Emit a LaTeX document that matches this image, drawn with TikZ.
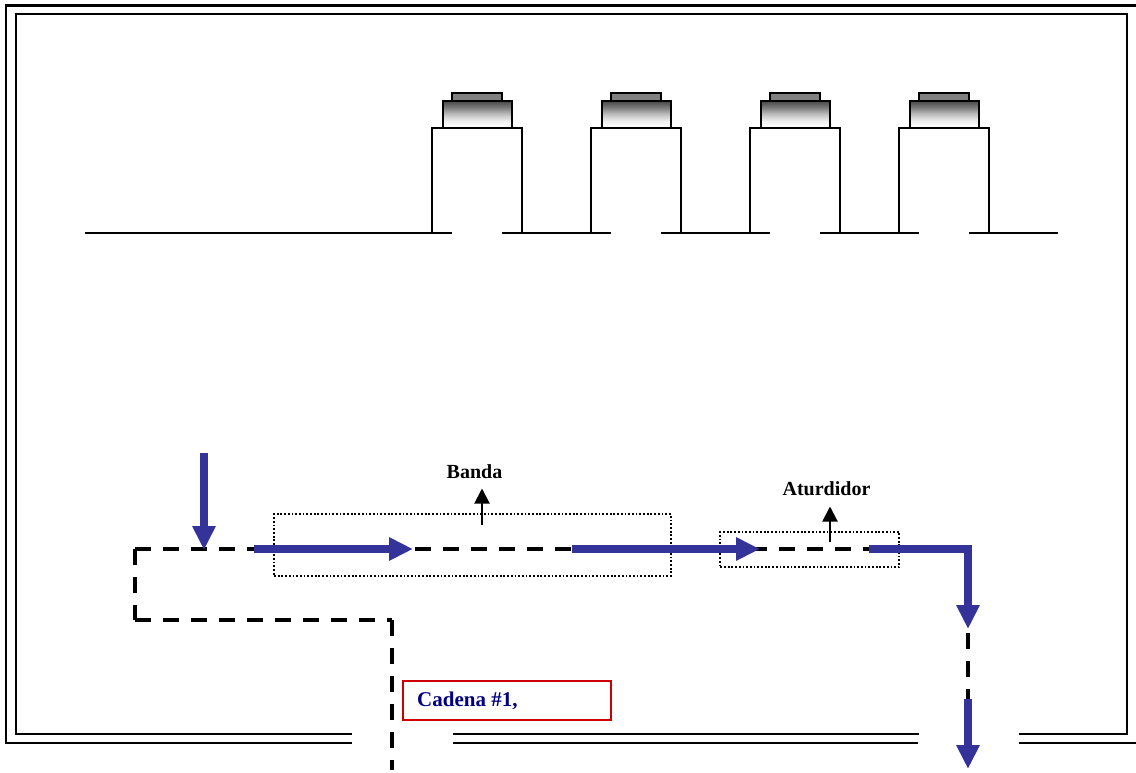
\documentclass[tikz,border=0pt]{standalone}
\usepackage{fontspec}
\setmainfont{Liberation Serif}
\usetikzlibrary{arrows.meta}
\definecolor{flowblue}{HTML}{333399}
\definecolor{navytext}{HTML}{000080}
\definecolor{boxred}{HTML}{CC0000}
\pgfdeclareverticalshading{capfade}{100bp}{color(0bp)=(white); color(25bp)=(white); color(37bp)=(black!6); color(50bp)=(black!25); color(62bp)=(black!50); color(75bp)=(black!72); color(100bp)=(black!72)}
\tikzset{
  frameline/.style={line width=1.8pt,black},
  outerline/.style={line width=2.6pt,black},
  wall/.style={line width=2pt,black,line join=miter},
  floorline/.style={line width=1.8pt,black},
  floorthick/.style={line width=2.8pt,black},
  flowbar/.style={line width=8pt,flowblue},
  flow/.style={line width=8pt,flowblue,-{Triangle[width=22pt,length=24pt]}},
  track/.style={line width=4pt,black,dash pattern=on 16pt off 12pt},
  zone/.style={draw,line width=1.8pt,dash pattern=on 1.8pt off 1.9pt,black,rectangle,inner sep=0pt,outer sep=0pt,anchor=north west},
  pointer/.style={line width=2pt,black,-{Triangle[width=15pt,length=15pt]}},
  tag/.style={font=\fontsize{20}{24}\selectfont\bfseries,text=black,inner sep=0pt},
  chain/.style={draw=boxred,line width=2pt,rectangle,inner sep=0pt,outer sep=0pt,anchor=north west,fill=white},
  capbottom/.style={draw=black,line width=2pt,shading=capfade},
  captop/.style={draw=black,line width=2pt,fill=black!50}
}
\begin{document}
\begin{tikzpicture}[x=1pt,y=-1pt]
\useasboundingbox (0,0) rectangle (1136,772);
% frames
\draw[outerline] (352,743) -- (6,743) -- (6,5.5) -- (1136,5.5);
\draw[outerline] (453,743) -- (918,743);
\draw[outerline] (1019,743) -- (1136,743);
\draw[frameline] (352,734) -- (16,734) -- (16,14) -- (1127,14) -- (1127,734) -- (1019,734);
\draw[frameline] (453,734) -- (919,734);
% floor line
\draw[floorline] (85,233) -- (432,233);
\draw[floorline] (522,233) -- (591,233);
\draw[floorline] (681,233) -- (750,233);
\draw[floorline] (840,233) -- (899,233);
\draw[floorline] (989,233) -- (1058,233);
% stations
\foreach \bx in {432,591,750,899}{
  \draw[wall] (\bx,233) -- (\bx,127.5) -- (\bx+90,127.5) -- (\bx+90,233);
  \draw[floorthick] (\bx,233) -- (\bx+20,233);
  \draw[floorthick] (\bx+70,233) -- (\bx+90,233);
  \draw[capbottom] (\bx+10.5,101) rectangle (\bx+80,127.5);
  \draw[captop] (\bx+20,93) rectangle (\bx+70,101);
}
% dotted zones
\node[zone,minimum width=397pt,minimum height=61.5pt] (bandabox) at (274,514.3) {};
\node[zone,minimum width=179pt,minimum height=35pt] (aturbox) at (720.3,532) {};
% dashed track
\coordinate (exitA) at (392,770);
\coordinate (cornerA) at (392,620);
\coordinate (cornerB) at (135,620);
\coordinate (cornerC) at (135,549);
\coordinate (cornerD) at (968,549);
\coordinate (trackEnd) at (968,702);
\draw[track] (cornerA) -- (exitA);
\draw[track] (cornerB) -- (cornerA);
\draw[track] (cornerC) -- (cornerB);
\draw[track] (cornerC) -- (cornerD);
\draw[track] (cornerD) -- (trackEnd);
% blue flow arrows
\coordinate (f1s) at (204,453);
\coordinate (f1e) at (204,550);
\coordinate (f2s) at (254,549);
\coordinate (f2e) at (413,549);
\coordinate (f3s) at (572,549);
\coordinate (f3e) at (760,549);
\coordinate (f4s) at (869,549);
\coordinate (f4e) at (968,629);
\coordinate (f5s) at (968,699);
\coordinate (f5e) at (968,769);
\draw[flow] (f1s) -- (f1e);
\draw[flow] (f2s) -- (f2e);
\draw[flow] (f3s) -- (f3e);
\draw[flowbar] (f4s) -- (cornerD);
\draw[flow] ([yshift=4pt]cornerD) -- (f4e);
\draw[flow] (f5s) -- (f5e);
% labels
\node[tag] (banda) at (474.5,471.5) {Banda};
\node[tag] (atur) at (826.5,489) {Aturdidor};
\coordinate (p1s) at (482,525);
\coordinate (p1e) at (482,488.5);
\coordinate (p2s) at (830,542);
\coordinate (p2e) at (830,506.5);
\draw[pointer] (p1s) -- (p1e);
\draw[pointer] (p2s) -- (p2e);
\node[chain,minimum width=208pt,minimum height=39pt] (cadenabox) at (403,681) {};
\node[font=\fontsize{21}{24}\selectfont\bfseries,text=navytext,inner sep=0pt,anchor=west] (cadena) at (417,701) {Cadena \#1,};
\end{tikzpicture}
\end{document}
